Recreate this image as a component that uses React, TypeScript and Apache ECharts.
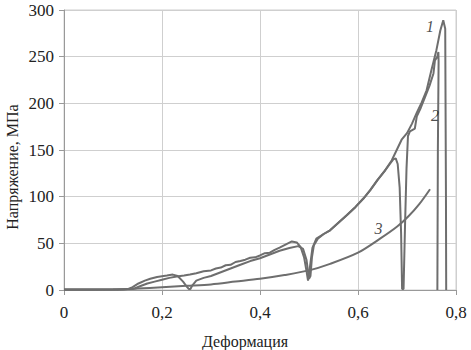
import React, { useEffect, useRef } from "react";
import * as echarts from "echarts";

const xTicks = [0, 0.2, 0.4, 0.6, 0.8];
const yTicks = [0, 50, 100, 150, 200, 250, 300];

const curve1X = [0, 0.1, 0.14, 0.155, 0.17, 0.185, 0.2, 0.215, 0.23, 0.245, 0.257, 0.27, 0.285, 0.3, 0.31, 0.32, 0.33, 0.34, 0.35, 0.36, 0.37, 0.38, 0.39, 0.4, 0.41, 0.42, 0.43, 0.44, 0.455, 0.465, 0.475, 0.483, 0.49, 0.495, 0.498, 0.502, 0.507, 0.515, 0.53, 0.543, 0.56, 0.577, 0.595, 0.611, 0.625, 0.64, 0.655, 0.669, 0.689, 0.7, 0.71, 0.72, 0.73, 0.74, 0.75, 0.76, 0.768, 0.774, 0.778, 0.7795, 0.78];
const curve1Y = [0.5, 0.5, 1, 4, 7, 9, 11, 13, 14.5, 15.5, 16.5, 18, 20, 21, 23, 24, 26.5, 27, 30, 31, 32.5, 34.5, 35, 37, 39.5, 40, 43, 45.5, 49.5, 52, 51, 46, 35, 20, 10, 25, 45, 55, 60, 64, 72, 80, 89, 98, 107, 118, 128, 139, 161, 168, 178, 190, 201, 214, 236, 257, 278, 289, 280, 100, 0];

const curve2X = [0, 0.12, 0.13, 0.14, 0.152, 0.165, 0.176, 0.19, 0.21, 0.222, 0.232, 0.243, 0.25, 0.255, 0.258, 0.262, 0.27, 0.285, 0.3, 0.32, 0.34, 0.36, 0.38, 0.4, 0.42, 0.44, 0.46, 0.478, 0.488, 0.495, 0.5, 0.503, 0.506, 0.51, 0.518, 0.53, 0.543, 0.56, 0.577, 0.595, 0.611, 0.625, 0.64, 0.655, 0.665, 0.672, 0.677, 0.681, 0.685, 0.688, 0.69, 0.693, 0.696, 0.699, 0.702, 0.706, 0.716, 0.72, 0.728, 0.737, 0.746, 0.754, 0.757, 0.762, 0.764, 0.7645, 0.763, 0.762];
const curve2Y = [0.5, 0.5, 1, 3, 7, 10, 12, 14, 15.5, 16.5, 15, 9, 4, 1, 1, 5, 10, 13, 15, 19, 23, 27, 31, 34, 38, 42, 45, 47, 44, 32, 12, 15, 35, 48, 55, 60, 64, 72, 80, 89, 98, 107, 118, 128, 135, 140, 141, 135, 110, 60, 1, 1, 70, 130, 165, 170, 173, 186, 195, 207, 219, 232, 246, 250, 255, 245, 150, 0];

const curve3X = [0, 0.1, 0.15, 0.2, 0.25, 0.3, 0.35, 0.4, 0.45, 0.5, 0.543, 0.6, 0.645, 0.68, 0.703, 0.725, 0.747];
const curve3Y = [0.3, 0.5, 1.5, 3, 4.5, 6, 9, 12, 16, 21, 28, 40, 55, 68, 79, 92, 108];

const curveLabels = ["1", "2", "3"];
const labelX = [0.747, 0.757, 0.642];
const labelY = [282, 187.5, 66.4];

const FONT = "Liberation Serif";
const LINE = "#6e6e6e";

export default function App() {
  const ref = useRef<HTMLDivElement>(null);
  useEffect(() => {
    if (!ref.current) return;
    const chart = echarts.init(ref.current, null, { renderer: "svg" });
    const toPairs = (xs: number[], ys: number[]) => xs.map((x, i) => [x, ys[i]]);
    const lineSeries = (xs: number[], ys: number[], smooth: number | boolean) => ({
      type: "line",
      data: toPairs(xs, ys),
      showSymbol: false,
      symbol: "none",
      smooth,
      lineStyle: { color: LINE, width: 2 },
      itemStyle: { color: LINE },
      z: 3,
    });
    chart.setOption({
      animation: false,
      grid: { left: 64, right: 15, top: 10, bottom: 60 },
      xAxis: {
        type: "value",
        min: xTicks[0],
        max: xTicks[xTicks.length - 1],
        interval: 0.2,
        axisLine: { lineStyle: { color: "#999", width: 1 } },
        axisTick: { show: true, length: 5, lineStyle: { color: "#999" } },
        splitLine: { show: true, lineStyle: { color: "#cfcfcf", width: 1 } },
        axisLabel: {
          margin: 14,
          color: "#222",
          fontFamily: FONT,
          fontSize: 17,
          formatter: (v: number) => (v === 0 ? "0" : v.toFixed(1).replace(".", ",")),
        },
      },
      yAxis: {
        type: "value",
        min: yTicks[0],
        max: yTicks[yTicks.length - 1],
        interval: 50,
        axisLine: { show: true, lineStyle: { color: "#999", width: 1 } },
        axisTick: { show: true, length: 5, lineStyle: { color: "#999" } },
        splitLine: { show: true, lineStyle: { color: "#cfcfcf", width: 1 } },
        axisLabel: { margin: 10, color: "#222", fontFamily: FONT, fontSize: 17 },
      },
      graphic: [
        {
          type: "rect",
          shape: { x: 64, y: 10, width: 392, height: 280 },
          style: { fill: "none", stroke: "#cfcfcf", lineWidth: 1 },
          silent: true,
          z: 0,
        },
        {
          type: "text",
          x: 245,
          y: 341,
          style: {
            text: "Деформация",
            fontFamily: FONT,
            fontSize: 16,
            fill: "#222",
            textAlign: "center",
            textVerticalAlign: "middle",
          },
        },
        {
          type: "text",
          x: 12,
          y: 167,
          rotation: Math.PI / 2,
          style: {
            text: "Напряжение, МПа",
            fontFamily: FONT,
            fontSize: 16,
            fill: "#222",
            textAlign: "center",
            textVerticalAlign: "middle",
          },
        },
      ],
      series: [
        lineSeries(curve1X, curve1Y, false),
        lineSeries(curve2X, curve2Y, false),
        lineSeries(curve3X, curve3Y, 0.3),
        {
          type: "scatter",
          data: curveLabels.map((t, i) => [labelX[i], labelY[i], t]),
          symbolSize: 0,
          itemStyle: { color: "#222" },
          label: {
            show: true,
            position: "inside",
            formatter: (p: any) => p.value[2],
            fontFamily: FONT,
            fontStyle: "italic",
            fontSize: 16,
            color: "#222",
            textBorderWidth: 0,
            textBorderColor: "transparent",
          },
          z: 5,
        },
      ],
    });
    return () => chart.dispose();
  }, []);
  return (
    <div
      ref={ref}
      style={{ position: "fixed", left: 0, top: 0, width: 471, height: 350, background: "#fff" }}
    />
  );
}
